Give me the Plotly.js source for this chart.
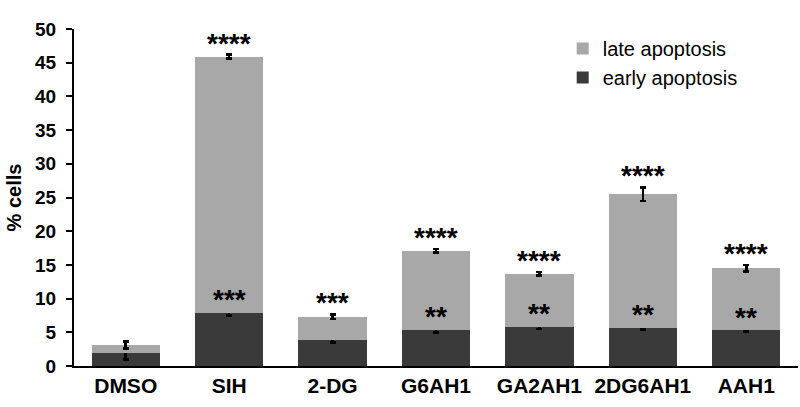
<!DOCTYPE html>
<html>
<head>
<meta charset="utf-8">
<script src="https://cdn.plot.ly/plotly-3.0.1.min.js"></script>
<style>html,body{margin:0;padding:0;background:#fff;}#chart{width:800px;height:407px;}</style>
</head>
<body>
<div id="chart"></div>
<script>
const categories = ["DMSO", "SIH", "2-DG", "G6AH1", "GA2AH1", "2DG6AH1", "AAH1"];
const earlyApoptosis = [1.9, 7.8, 3.9, 5.3, 5.8, 5.7, 5.3];
const lateApoptosis = [1.2, 38.1, 3.4, 11.8, 7.9, 19.8, 9.2];
const earlyErr = [0.9, 0.3, 0.4, 0.3, 0.3, 0.3, 0.2];
const lateErr = [0.5, 0.3, 0.35, 0.25, 0.25, 1.0, 0.5];
const earlyStars = ["", "***", "", "**", "**", "**", "**"];
const lateStars = ["", "****", "***", "****", "****", "****", "****"];

const FONT = "Liberation Sans, Arial, sans-serif";

const traces = [
  {
    type: "bar", name: "early apoptosis", x: categories, y: earlyApoptosis,
    marker: {color: "#3a3a3a", line: {width: 0}},
    error_y: {type: "data", array: earlyErr, visible: true, color: "#000", thickness: 2.5, width: 3}
  },
  {
    type: "bar", name: "late apoptosis", x: categories, y: lateApoptosis,
    marker: {color: "#a8a8a8", line: {width: 0}},
    error_y: {type: "data", array: lateErr, visible: true, color: "#000", thickness: 2.5, width: 3}
  }
];

const annotations = [];
categories.forEach((c, i) => {
  if (earlyStars[i]) {
    annotations.push({x: c, y: earlyApoptosis[i] + earlyErr[i], text: earlyStars[i], showarrow: false,
      xanchor: "center", yanchor: "bottom", yshift: -6, font: {family: FONT, size: 28, color: "#000", weight: "bold"}});
  }
  if (lateStars[i]) {
    const tot = earlyApoptosis[i] + lateApoptosis[i];
    annotations.push({x: c, y: tot + lateErr[i], text: lateStars[i], showarrow: false,
      xanchor: "center", yanchor: "bottom", yshift: -6, font: {family: FONT, size: 28, color: "#000", weight: "bold"}});
  }
});

const layout = {
  width: 800, height: 407,
  margin: {l: 74, r: 2, t: 29, b: 41, pad: 0},
  paper_bgcolor: "#fff", plot_bgcolor: "#fff",
  barmode: "stack", bargap: 0.34,
  font: {family: FONT, color: "#000"},
  showlegend: true,
  legend: {x: 0.675, y: 1.0, xanchor: "left", yanchor: "top", traceorder: "reversed",
    font: {family: FONT, size: 20, color: "#000"}, bgcolor: "rgba(0,0,0,0)", tracegroupgap: 0},
  xaxis: {
    range: [-0.5, 6.5], showline: true, linecolor: "#000", linewidth: 2, ticks: "",
    showgrid: false, zeroline: false,
    tickfont: {family: FONT, size: 21, color: "#000", weight: "bold"}
  },
  yaxis: {
    range: [0, 50], dtick: 5, showline: true, linecolor: "#000", linewidth: 2,
    ticks: "outside", ticklen: 6, tickwidth: 2, tickcolor: "#000",
    showgrid: false, zeroline: false, ticklabelstandoff: 6,
    tickfont: {family: FONT, size: 19, color: "#000", weight: "bold"},
    title: {text: "% cells", font: {family: FONT, size: 20, color: "#000", weight: "bold"}, standoff: 8}
  },
  annotations: annotations
};

Plotly.newPlot("chart", traces, layout, {displayModeBar: false, staticPlot: true});
</script>
</body>
</html>
